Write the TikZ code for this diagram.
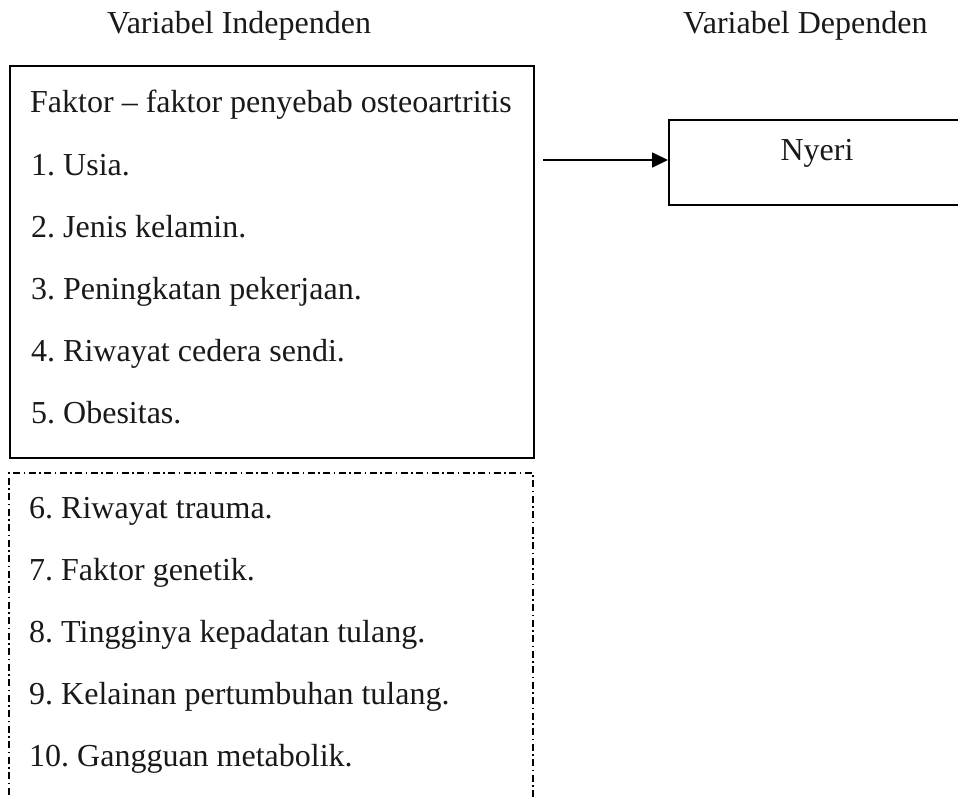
\documentclass[tikz,border=0pt]{standalone}
\usepackage{fontspec}
\setmainfont{Liberation Serif}
\usetikzlibrary{arrows.meta}
\begin{document}
\frenchspacing
\begin{tikzpicture}[x=1pt,y=-1pt,
  txt/.style={anchor=base west,inner sep=0pt,text=black!90,font=\fontsize{32}{38}\selectfont},
  solidbox/.style={draw,line width=1.7pt,inner sep=0pt,anchor=north west},
  dashline/.style={line width=1.4pt,dash pattern=on 7pt off 3.5pt on 1.5pt off 3.5pt},
  arr/.style={line width=1.7pt,-{Triangle[length=16pt,width=15pt]}}]
\useasboundingbox (0,0) rectangle (958,796);
\clip (0,0) rectangle (958,796);
\node[txt] (hi) at (107,33) {Variabel Independen};
\node[txt] (hd) at (683,33) {Variabel Dependen};
\node[solidbox,minimum width=524pt,minimum height=392pt] (src) at (9,65) {};
\node[txt] (t0) at (30,112) {Faktor -- faktor penyebab osteoartritis};
\node[txt] (t1) at (31,175) {1. Usia.};
\node[txt] (t2) at (31,237) {2. Jenis kelamin.};
\node[txt] (t3) at (31,299) {3. Peningkatan pekerjaan.};
\node[txt] (t4) at (31,361) {4. Riwayat cedera sendi.};
\node[txt] (t5) at (31,423) {5. Obesitas.};
\draw[dashline] (9,810) -- (9,473) -- (533,473) -- (533,810);
\node[txt] (t6) at (29,518) {6. Riwayat trauma.};
\node[txt] (t7) at (29,580) {7. Faktor genetik.};
\node[txt] (t8) at (29,642) {8. Tingginya kepadatan tulang.};
\node[txt] (t9) at (29,704) {9. Kelainan pertumbuhan tulang.};
\node[txt] (t10) at (29,766) {10. Gangguan metabolik.};
\node[solidbox,minimum width=360pt,minimum height=85pt] (dep) at (668,119) {};
\node[txt,anchor=base] (ny) at (817,160) {Nyeri};
\coordinate (a0) at (543,160);
\draw[arr] (a0) -- (dep.west |- a0);
\end{tikzpicture}
\end{document}
